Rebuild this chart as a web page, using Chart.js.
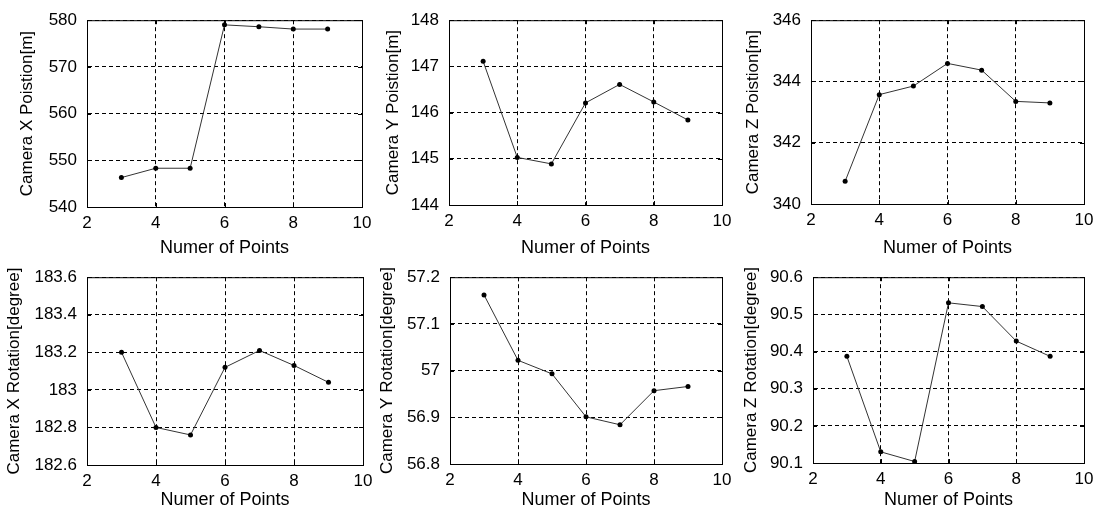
<!DOCTYPE html>
<html>
<head>
<meta charset="utf-8">
<script src="https://cdn.jsdelivr.net/npm/chart.js@4/dist/chart.umd.min.js"></script>
<style>
  body{ margin:0; background:#fff; }
  #wrap{ position:relative; width:1100px; height:515px; overflow:hidden; }
  canvas{ position:absolute; }
</style>
</head>
<body>
<div id="wrap">
  <canvas id="c1"></canvas>
  <canvas id="c2"></canvas>
  <canvas id="c3"></canvas>
  <canvas id="c4"></canvas>
  <canvas id="c5"></canvas>
  <canvas id="c6"></canvas>
</div>
<script>

// DATA
const numPoints = [3, 4, 5, 6, 7, 8, 9];
const xTicks = [2, 4, 6, 8, 10];

const posX = [546.3, 548.3, 548.3, 579.0, 578.6, 578.1, 578.1];
const posY = [147.11, 145.03, 144.89, 146.21, 146.61, 146.23, 145.84];
const posZ = [340.74, 343.57, 343.85, 344.59, 344.37, 343.35, 343.3];
const rotX = [183.20, 182.80, 182.76, 183.12, 183.21, 183.13, 183.04];
const rotY = [57.162, 57.022, 56.993, 56.901, 56.884, 56.957, 56.966];
const rotZ = [90.387, 90.13, 90.104, 90.531, 90.521, 90.428, 90.387];

const posXTicks = [540, 550, 560, 570, 580];
const posYTicks = [144, 145, 146, 147, 148];
const posZTicks = [340, 342, 344, 346];
const rotXTicks = [182.6, 182.8, 183, 183.2, 183.4, 183.6];
const rotYTicks = [56.8, 56.9, 57, 57.1, 57.2];
const rotZTicks = [90.1, 90.2, 90.3, 90.4, 90.5, 90.6];

const xTitle = "Numer of Points";


// PANEL LAYOUT (canvas box + plot area offsets)
const panels = [
    {id:"c1", x:0,   y:0,   w:380, h:257, left:87, top:13, right:18, bottom:50, yTitlePad:17, xTitlePad:-2,
     title:"Camera X Poistion[m]", values:posX, ticks:posXTicks},
    {id:"c2", x:370, y:0,   w:375, h:257, left:79, top:15, right:23, bottom:52, yTitlePad:13, xTitlePad:-2,
     title:"Camera Y Poistion[m]", values:posY, ticks:posYTicks},
    {id:"c3", x:735, y:0,   w:365, h:257, left:76, top:14, right:16, bottom:53, yTitlePad:8,  xTitlePad:-2,
     title:"Camera Z Poistion[m]", values:posZ, ticks:posZTicks},
    {id:"c4", x:0,   y:257, w:380, h:258, left:87, top:13, right:17, bottom:50, yTitlePad:4,  xTitlePad:4,
     title:"Camera X Rotation[degree]", values:rotX, ticks:rotXTicks},
    {id:"c5", x:370, y:257, w:375, h:258, left:80, top:12, right:23, bottom:51, yTitlePad:7,  xTitlePad:4,
     title:"Camera Y Rotation[degree]", values:rotY, ticks:rotYTicks},
    {id:"c6", x:735, y:257, w:365, h:258, left:78, top:12, right:16, bottom:52, yTitlePad:6,  xTitlePad:4,
     title:"Camera Z Rotation[degree]", values:rotZ, ticks:rotZTicks}
];


// FRAME + INNER TICK MARKS (matlab style box)
const framePlugin = {
    id:"frame",
    afterDraw(chart){
        const {ctx, chartArea:a, scales} = chart;
        ctx.save();
        ctx.strokeStyle = "#000";
        ctx.lineWidth = 1;
        ctx.setLineDash([]);
        ctx.strokeRect(a.left + 0.5, a.top + 0.5, a.right - a.left, a.bottom - a.top);

        ctx.beginPath();
        scales.x.ticks.forEach(t => {
            const px = Math.round(scales.x.getPixelForValue(t.value)) + 0.5;
            ctx.moveTo(px, a.bottom); ctx.lineTo(px, a.bottom - 4);
            ctx.moveTo(px, a.top); ctx.lineTo(px, a.top + 4);
        });
        scales.y.ticks.forEach(t => {
            const py = Math.round(scales.y.getPixelForValue(t.value)) + 0.5;
            ctx.moveTo(a.left, py); ctx.lineTo(a.left + 4, py);
            ctx.moveTo(a.right, py); ctx.lineTo(a.right - 4, py);
        });
        ctx.stroke();
        ctx.restore();
    }
};


function makePanel(p){

    const canvas = document.getElementById(p.id);
    canvas.style.left = p.x + "px";
    canvas.style.top = p.y + "px";
    canvas.style.width = p.w + "px";
    canvas.style.height = p.h + "px";
    canvas.width = p.w;
    canvas.height = p.h;

    const yTicks = p.ticks;

    new Chart(canvas, {
        type:"line",
        data:{
            datasets:[{
                data:numPoints.map((n, i) => ({x:n, y:p.values[i]})),
                borderColor:"#333",
                borderWidth:1,
                pointRadius:2.5,
                pointBackgroundColor:"#000",
                pointBorderColor:"#000",
                pointBorderWidth:0,
                tension:0,
                fill:false
            }]
        },
        options:{
            responsive:false,
            animation:false,
            events:[],
            layout:{ padding:{top:p.top, right:p.right, left:0, bottom:0} },
            plugins:{ legend:{display:false}, tooltip:{enabled:false} },
            scales:{
                x:{
                    type:"linear",
                    min:xTicks[0],
                    max:xTicks[xTicks.length - 1],
                    afterBuildTicks: s => { s.ticks = xTicks.map(v => ({value:v})); },
                    afterFit: s => { s.height = p.bottom; },
                    ticks:{ color:"#000", padding:6, font:{family:"Liberation Sans", size:17},
                            callback: v => String(v), maxRotation:0, autoSkip:false },
                    grid:{ color:"#000", lineWidth:1, drawTicks:false },
                    border:{ display:true, color:"#000", dash:[4, 3] },
                    title:{ display:true, text:xTitle, color:"#000",
                            font:{family:"Liberation Sans", size:18},
                            padding:{top:0, bottom:p.xTitlePad} }
                },
                y:{
                    type:"linear",
                    min:yTicks[0],
                    max:yTicks[yTicks.length - 1],
                    afterBuildTicks: s => { s.ticks = yTicks.map(v => ({value:v})); },
                    afterFit: s => { s.width = p.left; },
                    ticks:{ color:"#000", padding:10, font:{family:"Liberation Sans", size:17},
                            callback: v => String(+Number(v).toFixed(3)), autoSkip:false },
                    grid:{ color:"#000", lineWidth:1, drawTicks:false },
                    border:{ display:true, color:"#000", dash:[4, 3] },
                    title:{ display:true, text:p.title, color:"#000",
                            font:{family:"Liberation Sans", size:17},
                            padding:{top:p.yTitlePad, bottom:0} }
                }
            }
        },
        plugins:[framePlugin]
    });

}


// PAGE LOAD
document.addEventListener("DOMContentLoaded", () => {

    panels.forEach(makePanel);

});
</script>
</body>
</html>
